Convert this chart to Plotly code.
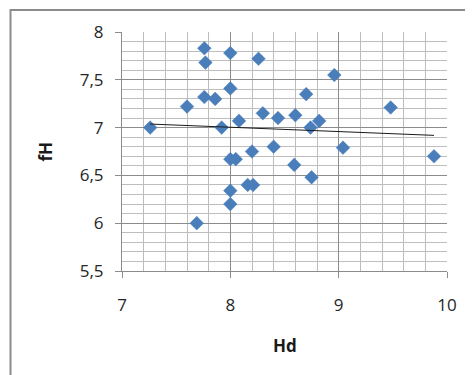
import numpy as np
import plotly.graph_objects as go

# Data
hd = [7.26, 7.60, 7.69, 7.76, 7.77, 7.76, 7.86, 7.92, 8.00, 8.00, 8.00, 8.05,
      8.00, 8.00, 8.08, 8.16, 8.21, 8.20, 8.26, 8.30, 8.40, 8.44, 8.59, 8.60,
      8.70, 8.74, 8.75, 8.82, 8.96, 9.04, 9.48, 9.88]
fh = [7.00, 7.22, 6.00, 7.83, 7.68, 7.32, 7.30, 7.00, 7.78, 7.41, 6.67, 6.67,
      6.34, 6.20, 7.07, 6.40, 6.40, 6.75, 7.72, 7.15, 6.80, 7.10, 6.61, 7.13,
      7.35, 7.00, 6.48, 7.07, 7.55, 6.79, 7.21, 6.70]

x_tickvals = [7, 8, 9, 10]
x_ticktext = ["7", "8", "9", "10"]
y_tickvals = [5.5, 6, 6.5, 7, 7.5, 8]
y_ticktext = ["5,5", "6", "6,5", "7", "7,5", "8"]

# Linear trend line
slope, intercept = np.polyfit(hd, fh, 1)
tx = [min(hd), max(hd)]
ty = [slope * v + intercept for v in tx]

W, H = 473, 375
L, R, T, B = 114, 34, 24, 112
pw, ph = W - L - R, H - T - B


def px_x(p):
    return (p - L) / pw


def px_y(p):
    return (H - B - p) / ph


font_family = "Open Sans, Liberation Sans, sans-serif"

fig = go.Figure()
fig.add_trace(go.Scatter(
    x=hd, y=fh, mode="markers",
    marker=dict(symbol="diamond", size=10.5, color="#4A7EBB",
                line=dict(width=0.5, color="#4A7EBB")),
    showlegend=False, hoverinfo="skip"))
fig.add_trace(go.Scatter(
    x=tx, y=ty, mode="lines",
    line=dict(color="#1a1a1a", width=1),
    showlegend=False, hoverinfo="skip"))

fig.update_layout(
    width=W, height=H,
    margin=dict(l=L, r=R, t=T, b=B, pad=0),
    paper_bgcolor="white", plot_bgcolor="white",
    font=dict(family=font_family, size=17, color="#262626"),
    xaxis=dict(range=[7, 10], tickvals=x_tickvals, ticktext=x_ticktext,
               showgrid=True, gridcolor="#8C8C8C", gridwidth=1,
               showline=True, linecolor="#8C8C8C", linewidth=1,
               ticks="outside", ticklen=6, tickcolor="#8C8C8C",
               ticklabelstandoff=13, zeroline=False,
               minor=dict(dtick=0.2, showgrid=True, gridcolor="#BDBDBD",
                          gridwidth=1, ticks="")),
    yaxis=dict(range=[5.5, 8], tickvals=y_tickvals, ticktext=y_ticktext,
               showgrid=True, gridcolor="#8C8C8C", gridwidth=1,
               showline=True, linecolor="#8C8C8C", linewidth=1,
               ticks="outside", ticklen=6, tickcolor="#8C8C8C",
               ticklabelstandoff=8, zeroline=False,
               minor=dict(dtick=0.1, showgrid=True, gridcolor="#BDBDBD",
                          gridwidth=1, ticks="")),
    annotations=[
        dict(text="<b>Hd</b>", x=0.5, y=px_y(337), xref="paper", yref="paper",
             showarrow=False, xanchor="center", yanchor="middle",
             font=dict(size=17, color="#1a1a1a")),
        dict(text="<b>fH</b>", x=px_x(37), y=0.5, xref="paper", yref="paper",
             showarrow=False, xanchor="center", yanchor="middle", textangle=-90,
             font=dict(size=17, color="#1a1a1a")),
    ],
    shapes=[
        dict(type="rect", xref="paper", yref="paper",
             x0=px_x(2.5), x1=px_x(471), y0=px_y(373), y1=px_y(2),
             line=dict(color="#8C8C8C", width=2), fillcolor="rgba(0,0,0,0)",
             layer="below"),
    ],
)

fig.write_html("out.html")
